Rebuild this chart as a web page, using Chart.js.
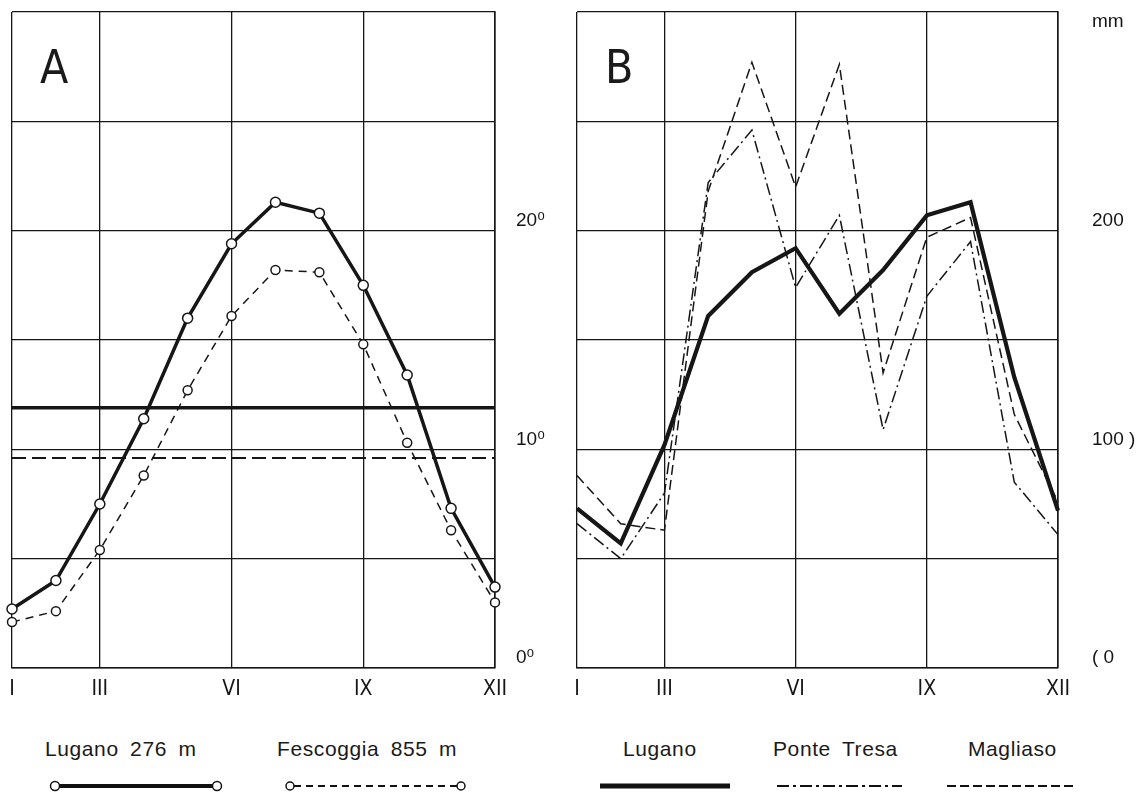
<!DOCTYPE html>
<html>
<head>
<meta charset="utf-8">
<script src="https://cdn.jsdelivr.net/npm/chart.js@4.4.1/dist/chart.umd.min.js"></script>
<style>
  html, body { margin: 0; padding: 0; background: #fff; }
  #wrap { position: relative; width: 1146px; height: 796px; overflow: hidden; background: #fff; }
  canvas { position: absolute; top: 0; }
  .lbl { position: absolute; font-family: 'Liberation Sans', Arial, sans-serif; font-size: 21px; color: #1a1a1a;
         letter-spacing: 0.6px; word-spacing: 5px; line-height: 24px; white-space: nowrap; }
  .panel { position: absolute; font-family: 'Liberation Sans Narrow', 'DejaVu Sans Condensed', 'Liberation Sans', sans-serif;
           font-size: 46px; color: #1a1a1a; line-height: 46px; }
  svg { position: absolute; left: 0; top: 0; }
</style>
</head>
<body>
<div id="wrap">
  <canvas id="chartA" width="565" height="712" style="left:0px;width:565px;height:712px"></canvas>
  <canvas id="chartB" width="581" height="712" style="left:565px;width:581px;height:712px"></canvas>
  <div class="panel" style="left:40px;top:44px">A</div>
  <div class="panel" style="left:605px;top:44px">B</div>
  <div class="lbl" style="left:45px;top:737px">Lugano 276 m</div>
  <div class="lbl" style="left:277px;top:737px">Fescoggia 855 m</div>
  <div class="lbl" style="left:623px;top:737px">Lugano</div>
  <div class="lbl" style="left:773px;top:737px">Ponte Tresa</div>
  <div class="lbl" style="left:968px;top:737px">Magliaso</div>
  <svg width="1146" height="796">
    <line x1="55" y1="786" x2="217" y2="786" stroke="#111" stroke-width="4"/>
    <circle cx="55" cy="786" r="4.5" fill="#fff" stroke="#111" stroke-width="1.5"/>
    <circle cx="217" cy="786" r="4.5" fill="#fff" stroke="#111" stroke-width="1.5"/>
    <line x1="294" y1="786" x2="457" y2="786" stroke="#111" stroke-width="2" stroke-dasharray="7,5"/>
    <circle cx="290" cy="786" r="4" fill="#fff" stroke="#111" stroke-width="1.5"/>
    <circle cx="461" cy="786" r="4" fill="#fff" stroke="#111" stroke-width="1.5"/>
    <line x1="600" y1="786" x2="730" y2="786" stroke="#111" stroke-width="5"/>
    <line x1="777" y1="786" x2="902" y2="786" stroke="#111" stroke-width="2" stroke-dasharray="12,4,3,4"/>
    <line x1="947" y1="786" x2="1073" y2="786" stroke="#111" stroke-width="2" stroke-dasharray="9,4"/>
  </svg>
</div>
<script>
// ---- data ----
const monthLabels = ['I','II','III','IV','V','VI','VII','VIII','IX','X','XI','XII'];
const shownMonths = ['I','III','VI','IX','XII'];

// Panel A: monthly mean temperature (deg C)
const tempLugano    = [2.7, 4.0, 7.5, 11.4, 16.0, 19.4, 21.3, 20.8, 17.5, 13.4, 7.3, 3.7];
const tempFescoggia = [2.1, 2.6, 5.4, 8.8, 12.7, 16.1, 18.2, 18.1, 14.8, 10.3, 6.3, 3.0];
const meanLugano = 11.9;
const meanFescoggia = 9.6;
const tempTickValues = [0, 10, 20];
const tempTickText   = ['0\u2070', '10\u2070', '20\u2070'];

// Panel B: monthly precipitation (mm)
const rainLugano     = [73, 57, 102, 161, 181, 192, 162, 182, 207, 213, 133, 72];
const rainPonteTresa = [66, 50, 80, 222, 246, 174, 207, 109, 170, 195, 85, 61];
const rainMagliaso   = [88, 66, 63, 218, 277, 220, 276, 135, 197, 206, 116, 76];
const rainTickValues = [0, 100, 200, 300];
const rainTickText   = ['( 0', '100 )', '200', 'mm'];

// ---- styling helpers ----
const INK = '#161616';
const gridW = 1.3;
const xFont = { family: "'Liberation Sans Narrow', 'DejaVu Sans Condensed', 'Liberation Sans', sans-serif", size: 21 };
const yFontFamily = "'Liberation Sans', Arial, 'DejaVu Sans', sans-serif";

function xScale() {
  return {
    type: 'category',
    offset: false,
    grid: {
      drawTicks: false,
      lineWidth: gridW,
      color: ctx => shownMonths.includes(monthLabels[ctx.index]) ? INK : 'rgba(0,0,0,0)'
    },
    border: { display: true, color: INK, width: 1.6 },
    ticks: {
      autoSkip: false, maxRotation: 0, minRotation: 0, padding: 9, color: INK, font: xFont,
      callback: (v, i) => shownMonths.includes(monthLabels[i]) ? monthLabels[i] : ''
    },
    afterFit: s => { s.height = 44; s.paddingLeft = 0; s.paddingRight = 0; }
  };
}

function yScale(max, step, values, texts, width, pad) {
  return {
    position: 'right',
    min: 0, max: max,
    grid: { drawTicks: false, lineWidth: gridW, color: INK },
    border: { display: true, color: INK, width: 1.6 },
    ticks: {
      stepSize: step, padding: pad, color: INK, labelOffset: -10,
      font: ctx => ({ family: yFontFamily, size: 19,
                      lineHeight: (ctx.tick && ctx.tick.value === max && values.indexOf(max) >= 0) ? '40px' : 1.2 }),
      callback: v => {
        const k = values.indexOf(v);
        if (k < 0) return '';
        return v === max ? ['', texts[k]] : texts[k];
      }
    },
    afterFit: s => { s.width = width; s.paddingTop = 0; s.paddingBottom = 0; }
  };
}

const common = {
  responsive: false,
  animation: false,
  devicePixelRatio: 1,
  layout: { padding: { left: 12, top: 12, right: 0, bottom: 0 } },
  plugins: { legend: { display: false }, tooltip: { enabled: false } },
  elements: { line: { tension: 0 } }
};

new Chart(document.getElementById('chartA'), {
  type: 'line',
  data: {
    labels: monthLabels,
    datasets: [
      { label: 'Lugano 276 m', data: tempLugano, borderColor: INK, borderWidth: 3.5,
        pointRadius: 5, pointBackgroundColor: '#fff', pointBorderColor: INK, pointBorderWidth: 1.5,
        clip: false, order: 0 },
      { label: 'Fescoggia 855 m', data: tempFescoggia, borderColor: INK, borderWidth: 1.5, borderDash: [8, 6],
        pointRadius: 4.5, pointBackgroundColor: '#fff', pointBorderColor: INK, pointBorderWidth: 1.5,
        clip: false, order: 1 },
      { label: 'Lugano mean', data: [{ x: 'I', y: meanLugano }, { x: 'XII', y: meanLugano }],
        borderColor: INK, borderWidth: 3.5, pointRadius: 0, order: 2 },
      { label: 'Fescoggia mean', data: [{ x: 'I', y: meanFescoggia }, { x: 'XII', y: meanFescoggia }],
        borderColor: INK, borderWidth: 2, borderDash: [14, 6], pointRadius: 0, order: 3 }
    ]
  },
  options: Object.assign({}, common, {
    scales: { x: xScale(), y: yScale(30, 5, tempTickValues, tempTickText, 70, 21) }
  })
});

new Chart(document.getElementById('chartB'), {
  type: 'line',
  data: {
    labels: monthLabels,
    datasets: [
      { label: 'Lugano', data: rainLugano, borderColor: INK, borderWidth: 4.2, pointRadius: 0,
        borderJoinStyle: 'miter', clip: false, order: 0 },
      { label: 'Ponte Tresa', data: rainPonteTresa, borderColor: INK, borderWidth: 1.5,
        borderDash: [12, 4, 2, 4], pointRadius: 0, clip: false, order: 1 },
      { label: 'Magliaso', data: rainMagliaso, borderColor: INK, borderWidth: 1.5,
        borderDash: [10, 5], pointRadius: 0, clip: false, order: 2 }
    ]
  },
  options: Object.assign({}, common, {
    scales: { x: xScale(), y: yScale(300, 50, rainTickValues, rainTickText, 88, 34) }
  })
});
</script>
</body>
</html>
